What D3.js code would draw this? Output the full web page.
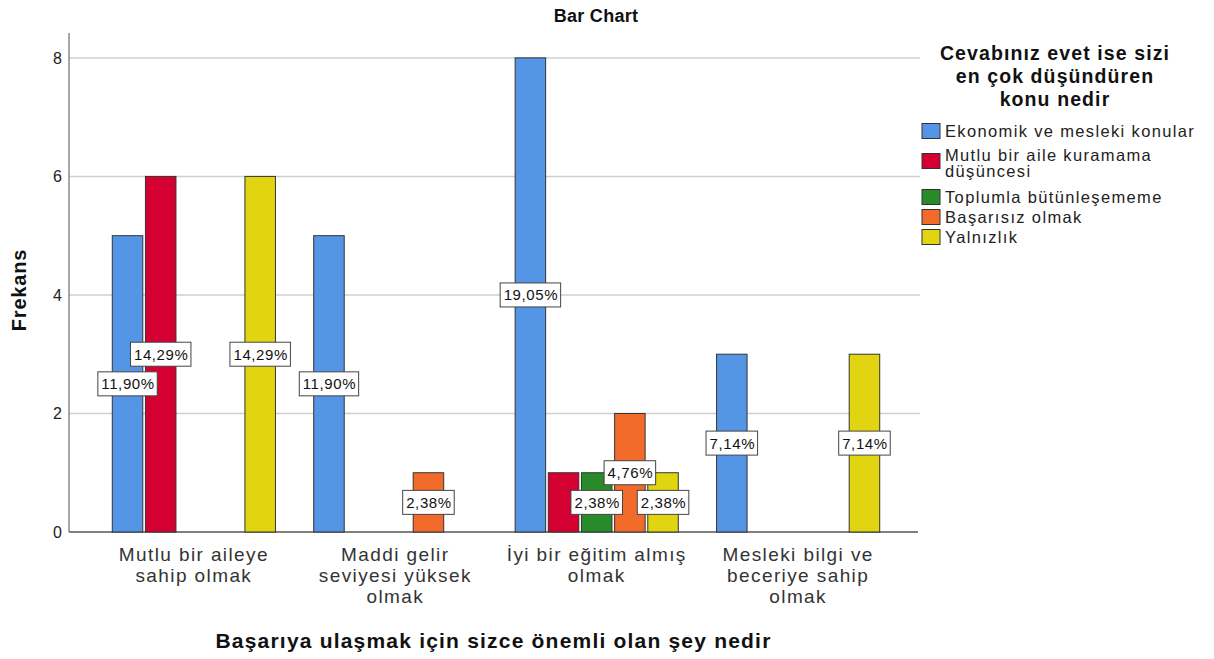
<!DOCTYPE html>
<html>
<head>
<meta charset="utf-8">
<script src="https://cdnjs.cloudflare.com/ajax/libs/d3/7.8.5/d3.min.js"></script>
<style>
  body { margin: 0; background: #fff; }
  text { font-family: "Liberation Sans", Arial, sans-serif; }
</style>
</head>
<body>
<script>
// categories on the x axis (line breaks as shown in the chart)
var categories = [
  "Mutlu bir aileye\nsahip olmak",
  "Maddi gelir\nseviyesi yüksek\nolmak",
  "İyi bir eğitim almış\nolmak",
  "Mesleki bilgi ve\nbeceriye sahip\nolmak"
];
var series = [
  "Ekonomik ve mesleki konular",
  "Mutlu bir aile kuramama\ndüşüncesi",
  "Toplumla bütünleşememe",
  "Başarısız olmak",
  "Yalnızlık"
];
var colors = ["#5595e5", "#d50032", "#288a28", "#f36b2b", "#e1d512"];
// counts per category, one array per series
var ekonomik  = [5, 5, 8, 3];
var mutluAile = [6, 0, 1, 0];
var toplum    = [0, 0, 1, 0];
var basarisiz = [0, 1, 2, 0];
var yalniz    = [6, 0, 1, 3];
var yTicks = [0, 2, 4, 6, 8];

var values = [ekonomik, mutluAile, toplum, basarisiz, yalniz];
var total = d3.sum(values, v => d3.sum(v));

var svgWidth = 1214, svgHeight = 659;
var svg = d3.select("body").append("svg")
  .attr("width", svgWidth)
  .attr("height", svgHeight);

var plotLeft = 69, plotRight = 918, plotTop = 33, plotBottom = 532;

var x0 = d3.scaleBand()
  .domain(d3.range(categories.length))
  .range([72, 920])
  .paddingInner(0.19)
  .paddingOuter(0.2);
var x1 = d3.scaleBand()
  .domain(d3.range(series.length))
  .range([0, x0.bandwidth()])
  .paddingInner(0.08);
var y = d3.scaleLinear()
  .domain([0, 8.42])
  .range([plotBottom, plotTop]);

// title
svg.append("text")
  .attr("x", 596)
  .attr("y", 22)
  .attr("text-anchor", "middle")
  .style("font-weight", "bold")
  .style("font-size", "18px")
  .style("letter-spacing", "0.3px")
  .attr("fill", "#111")
  .text("Bar Chart");

// grid lines
svg.append("g").selectAll("line")
  .data(yTicks.filter(d => d > 0))
  .enter().append("line")
  .attr("x1", plotLeft).attr("x2", plotRight + 2)
  .attr("y1", d => y(d)).attr("y2", d => y(d))
  .attr("stroke", "#cfcfcf")
  .attr("stroke-width", 1.5);

// y axis
var yAxis = svg.append("g")
  .attr("transform", `translate(${plotLeft},0)`)
  .call(d3.axisLeft(y).tickValues(yTicks).tickSize(0).tickPadding(7));
yAxis.select(".domain").remove();
yAxis.selectAll("text")
  .style("font-family", "Liberation Sans, Arial, sans-serif")
  .style("font-size", "16px")
  .attr("fill", "#222");

svg.append("line")
  .attr("x1", plotLeft).attr("x2", plotLeft)
  .attr("y1", plotTop).attr("y2", plotBottom)
  .attr("stroke", "#8a8a8a").attr("stroke-width", 1.5);
svg.append("line")
  .attr("x1", plotLeft).attr("x2", plotRight)
  .attr("y1", plotBottom).attr("y2", plotBottom)
  .attr("stroke", "#555").attr("stroke-width", 1.5);

// bars
var groups = svg.append("g").selectAll("g")
  .data(categories)
  .enter().append("g")
  .attr("transform", (d, i) => `translate(${x0(i)},0)`);

groups.each(function (cat, ci) {
  var g = d3.select(this);
  values.forEach(function (v, si) {
    if (v[ci] > 0) {
      g.append("rect")
        .attr("x", x1(si))
        .attr("y", y(v[ci]))
        .attr("width", x1.bandwidth())
        .attr("height", y(0) - y(v[ci]))
        .attr("fill", colors[si])
        .attr("stroke", "#333")
        .attr("stroke-width", 1);
    }
  });
});

// percentage labels, hide the ones that collide (placed right to left)
var placed = [];
var labelLayer = svg.append("g");
categories.forEach(function (cat, ci) {
  for (var si = series.length - 1; si >= 0; si--) {
    var v = values[si][ci];
    if (v <= 0) continue;
    var cx = x0(ci) + x1(si) + x1.bandwidth() / 2;
    var cy = y(v / 2);
    var txt = (v / total * 100).toFixed(2).replace(".", ",") + "%";
    var g = labelLayer.append("g");
    var t = g.append("text")
      .attr("x", cx + 0.5).attr("y", cy + 5.5)
      .attr("text-anchor", "middle")
      .style("font-size", "15px")
      .style("letter-spacing", "0.6px")
      .attr("fill", "#111")
      .text(txt);
    var w = t.node().getComputedTextLength() + 6;
    var box = { x: cx - w / 2, y: cy - 12, w: w, h: 24 };
    var hit = placed.some(b => box.x < b.x + b.w && b.x < box.x + box.w && box.y < b.y + b.h && b.y < box.y + box.h);
    if (hit) { g.remove(); continue; }
    placed.push(box);
    g.insert("rect", "text")
      .attr("x", box.x).attr("y", box.y)
      .attr("width", box.w).attr("height", box.h)
      .attr("fill", "#fff")
      .attr("stroke", "#444")
      .attr("stroke-width", 1);
  }
});

// category labels
svg.append("g").selectAll("text")
  .data(categories)
  .enter().append("text")
  .attr("text-anchor", "middle")
  .attr("transform", (d, i) => `translate(${x0(i) + x0.bandwidth() / 2},561)`)
  .style("font-size", "19px")
  .style("letter-spacing", "1.4px")
  .attr("fill", "#333")
  .each(function (d) {
    var lines = d.split("\n");
    d3.select(this).selectAll("tspan")
      .data(lines)
      .enter().append("tspan")
      .attr("x", 0)
      .attr("dy", (l, i) => i === 0 ? 0 : 21)
      .text(l => l);
  });

// axis titles
svg.append("text")
  .attr("x", (plotLeft + plotRight) / 2)
  .attr("y", 648)
  .attr("text-anchor", "middle")
  .style("font-weight", "bold")
  .style("font-size", "21px")
  .style("letter-spacing", "1.2px")
  .attr("fill", "#111")
  .text("Başarıya ulaşmak için sizce önemli olan şey nedir");

svg.append("text")
  .attr("transform", "translate(26,290) rotate(-90)")
  .attr("text-anchor", "middle")
  .style("font-weight", "bold")
  .style("font-size", "20px")
  .style("letter-spacing", "0.8px")
  .attr("fill", "#111")
  .text("Frekans");

// legend
var legendTitle = ["Cevabınız evet ise sizi", "en çok düşündüren", "konu nedir"];
svg.append("g").selectAll("text")
  .data(legendTitle)
  .enter().append("text")
  .attr("x", 1055)
  .attr("y", (d, i) => 60 + i * 23)
  .attr("text-anchor", "middle")
  .style("font-weight", "bold")
  .style("font-size", "19.5px")
  .style("letter-spacing", "1.1px")
  .attr("fill", "#111")
  .text(d => d);

var legendY = [131, 161, 197, 217, 237];
var legend = svg.append("g").selectAll("g")
  .data(series)
  .enter().append("g")
  .attr("transform", (d, i) => `translate(922,${legendY[i]})`);
legend.append("rect")
  .attr("x", 0).attr("y", -7.5)
  .attr("width", 18).attr("height", 15)
  .attr("fill", (d, i) => colors[i])
  .attr("stroke", "#333");
legend.append("text")
  .style("font-size", "16.5px")
  .style("letter-spacing", "1.35px")
  .attr("fill", "#222")
  .each(function (d) {
    var lines = d.split("\n");
    var off = lines.length > 1 ? 0 : 6;
    d3.select(this).selectAll("tspan")
      .data(lines)
      .enter().append("tspan")
      .attr("x", 23)
      .attr("y", (l, i) => off + i * 16)
      .text(l => l);
  });
</script>
</body>
</html>
